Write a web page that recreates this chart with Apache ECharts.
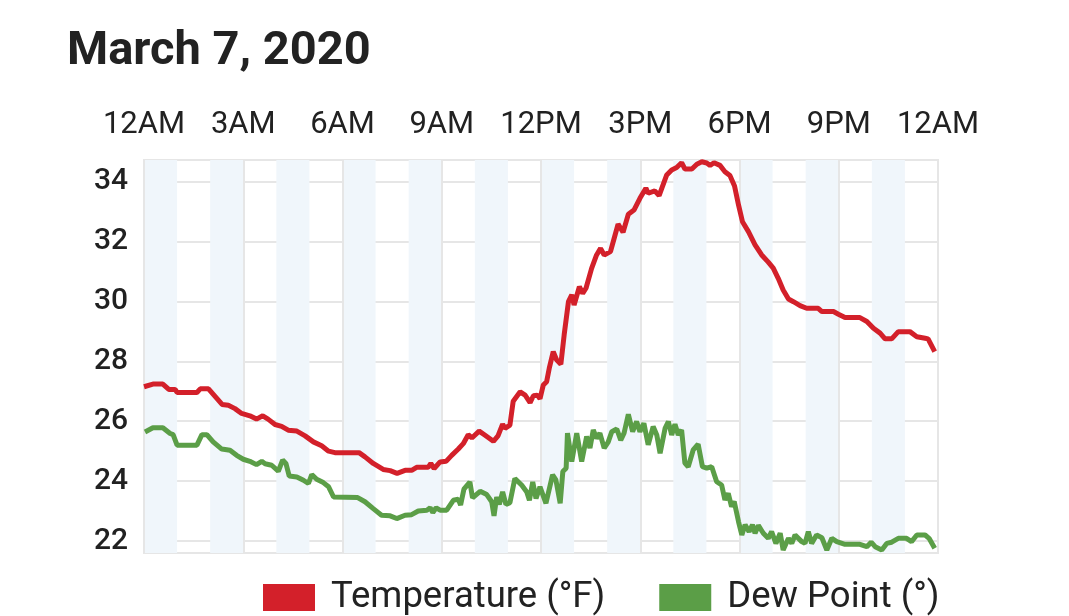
<!DOCTYPE html>
<html>
<head>
<meta charset="utf-8">
<title>March 7, 2020</title>
<script src="https://cdn.jsdelivr.net/npm/echarts@6/dist/echarts.min.js"></script>
<style>
  html, body { margin: 0; padding: 0; background: #fff; }
  #chart { width: 1069px; height: 616px; }
</style>
</head>
<body>
<div id="chart"></div>
<script>
// 时间（小时）和读数
var tempHours = [0, 0.27, 0.57, 0.75, 0.94, 1.0, 1.6, 1.7, 1.95, 2.36, 2.55, 2.75, 2.95, 3.2, 3.4, 3.59, 3.75, 3.96,
  4.16, 4.36, 4.62, 4.87, 5.12, 5.37, 5.58, 5.77, 6.5, 6.68, 6.93, 7.23, 7.44, 7.65, 7.89, 8.09, 8.24, 8.59, 8.67,
  8.77, 8.95, 9.13, 9.3, 9.5, 9.65, 9.8, 9.91, 10.13, 10.31, 10.56, 10.7, 10.84, 10.91, 11.06, 11.16, 11.37, 11.52,
  11.67, 11.77, 11.89, 11.97, 12.07, 12.17, 12.25, 12.37, 12.47, 12.6, 12.7, 12.83, 12.93, 13.0, 13.16, 13.26, 13.36,
  13.53, 13.68, 13.8, 13.91, 14.1, 14.21, 14.33, 14.48, 14.64, 14.81, 14.99, 15.17, 15.24, 15.44, 15.57, 15.8, 15.95,
  16.1, 16.25, 16.35, 16.56, 16.71, 16.86, 17.01, 17.11, 17.23, 17.41, 17.56, 17.71, 17.85, 17.97, 18.09, 18.27,
  18.47, 18.67, 18.87, 19.02, 19.17, 19.32, 19.48, 19.63, 19.83, 20.03, 20.38, 20.49, 20.84, 20.99, 21.19, 21.64,
  21.85, 22.05, 22.25, 22.4, 22.6, 22.8, 23.15, 23.36, 23.61, 23.7, 23.9];
var tempValues = [27.15, 27.24, 27.24, 27.06, 27.06, 26.96, 26.96, 27.08, 27.08, 26.56, 26.53, 26.42, 26.26, 26.18,
  26.07, 26.18, 26.07, 25.89, 25.83, 25.7, 25.67, 25.51, 25.31, 25.18, 25.0, 24.95, 24.95, 24.81, 24.59, 24.39,
  24.35, 24.26, 24.36, 24.36, 24.46, 24.46, 24.59, 24.42, 24.64, 24.66, 24.86, 25.07, 25.25, 25.55, 25.44, 25.67,
  25.53, 25.33, 25.51, 25.9, 25.76, 25.87, 26.67, 26.98, 26.87, 26.62, 26.85, 26.87, 26.75, 27.21, 27.32, 27.77,
  28.32, 28.05, 27.9, 28.88, 29.99, 30.22, 29.88, 30.49, 30.27, 30.44, 31.1, 31.55, 31.77, 31.55, 31.66, 32.1, 32.58,
  32.31, 32.91, 33.05, 33.44, 33.78, 33.61, 33.69, 33.53, 34.22, 34.39, 34.47, 34.63, 34.42, 34.42, 34.58, 34.66,
  34.62, 34.54, 34.63, 34.54, 34.33, 34.2, 33.85, 33.22, 32.66, 32.33, 31.89, 31.55, 31.31, 31.11, 30.77, 30.38,
  30.08, 29.99, 29.86, 29.77, 29.77, 29.66, 29.66, 29.57, 29.46, 29.46, 29.33, 29.1, 28.94, 28.75, 28.75, 28.99,
  28.99, 28.82, 28.77, 28.75, 28.32];

var dewHours = [0.03, 0.27, 0.57, 0.79, 0.88, 1.0, 1.6, 1.75, 1.9, 2.09, 2.35, 2.6, 2.8, 3.0, 3.2, 3.4, 3.56, 3.66,
  3.86, 4.06, 4.19, 4.29, 4.39, 4.62, 4.82, 4.97, 5.07, 5.22, 5.42, 5.58, 5.73, 6.46, 6.68, 6.93, 7.18, 7.44, 7.64,
  7.89, 8.09, 8.29, 8.55, 8.65, 8.73, 8.83, 8.95, 9.15, 9.35, 9.5, 9.57, 9.67, 9.85, 9.93, 10.16, 10.36, 10.51,
  10.58, 10.66, 10.74, 10.84, 10.94, 11.06, 11.21, 11.42, 11.57, 11.65, 11.75, 11.85, 11.97, 12.15, 12.35, 12.45,
  12.58, 12.66, 12.76, 12.8, 12.93, 13.08, 13.23, 13.38, 13.48, 13.58, 13.68, 13.78, 13.91, 14.03, 14.14, 14.29,
  14.41, 14.51, 14.64, 14.77, 14.89, 14.99, 15.11, 15.24, 15.39, 15.5, 15.6, 15.75, 15.85, 15.95, 16.05, 16.15,
  16.25, 16.35, 16.45, 16.6, 16.75, 16.88, 17.01, 17.16, 17.31, 17.46, 17.56, 17.66, 17.76, 17.84, 17.97, 18.07,
  18.17, 18.29, 18.39, 18.47, 18.57, 18.72, 18.87, 18.97, 19.1, 19.23, 19.32, 19.48, 19.58, 19.68, 19.88, 19.98,
  20.08, 20.18, 20.33, 20.49, 20.64, 20.79, 20.94, 21.19, 21.64, 21.85, 21.98, 22.1, 22.3, 22.45, 22.6, 22.8, 23.05,
  23.2, 23.36, 23.61, 23.73, 23.9];
var dewValues = [25.64, 25.78, 25.78, 25.59, 25.55, 25.2, 25.2, 25.55, 25.55, 25.31, 25.07, 25.03, 24.86, 24.73,
  24.66, 24.55, 24.66, 24.58, 24.53, 24.33, 24.7, 24.59, 24.17, 24.14, 24.03, 23.92, 24.22, 24.06, 23.95, 23.81,
  23.47, 23.45, 23.31, 23.08, 22.86, 22.84, 22.75, 22.86, 22.88, 23.0, 23.03, 23.11, 22.95, 23.11, 23.03, 23.03,
  23.36, 23.4, 23.2, 23.73, 23.97, 23.44, 23.66, 23.55, 23.31, 22.84, 23.47, 23.22, 23.64, 23.22, 23.28, 24.09,
  23.86, 23.64, 23.36, 23.97, 23.42, 23.81, 23.26, 24.21, 24.04, 23.26, 24.32, 24.43, 25.6, 24.65, 25.6, 24.65,
  25.49, 25.1, 25.71, 25.43, 25.6, 25.1, 25.3, 25.65, 25.74, 25.37, 25.6, 26.23, 25.65, 25.99, 25.65, 25.93, 25.21,
  25.82, 25.54, 24.93, 25.76, 25.99, 25.54, 25.9, 25.54, 25.71, 24.6, 24.48, 25.04, 25.23, 24.48, 24.43, 24.48,
  23.98, 23.87, 23.37, 23.59, 23.15, 23.32, 22.65, 22.2, 22.54, 22.31, 22.54, 22.26, 22.52, 22.26, 22.09, 22.31,
  21.92, 22.26, 21.7, 22.09, 21.92, 22.2, 21.98, 21.92, 22.31, 21.92, 22.2, 22.11, 21.7, 22.09, 21.98, 21.89, 21.89,
  21.81, 21.96, 21.81, 21.7, 21.92, 21.96, 22.09, 22.09, 21.98, 22.2, 22.2, 22.09, 21.76];

var hourLabels = ['12AM', '3AM', '6AM', '9AM', '12PM', '3PM', '6PM', '9PM', '12AM'];
var seriesNames = ['Temperature (°F)', 'Dew Point (°)'];

function pairs(xs, ys) {
  return xs.map(function (x, i) { return [x, ys[i]]; });
}

var gridColor = '#e6e6e6';
var clear = 'rgba(0,0,0,0)';

var chart = echarts.init(document.getElementById('chart'));
var option = {
  backgroundColor: '#fff',
  animation: false,
  textStyle: { fontFamily: 'Roboto' },
  title: {
    text: 'March 7, 2020',
    left: 62,
    top: 24,
    textStyle: { fontFamily: 'Roboto', fontSize: 47, fontWeight: 'bold', color: '#222' }
  },
  legend: {
    data: seriesNames,
    left: 258,
    top: 574,
    icon: 'rect',
    itemWidth: 52,
    itemHeight: 27,
    itemGap: 54,
    textStyle: { fontFamily: 'Roboto', fontSize: 36.5, color: '#222', padding: [0, 0, 0, 11] }
  },
  grid: {
    left: 144, right: 131, top: 160, bottom: 63,
    show: true, borderColor: gridColor, borderWidth: 2
  },
  xAxis: [
    {
      // 每小时交替的浅蓝色条
      type: 'value', min: 0, max: 24, interval: 1, position: 'top',
      axisLine: { show: false }, axisTick: { show: false }, axisLabel: { show: false },
      splitLine: { show: false },
      splitArea: { show: true, areaStyle: { color: ['#f0f6fb', clear] } }
    },
    {
      type: 'value', min: 0, max: 24, interval: 3, position: 'top',
      axisLine: { show: false }, axisTick: { show: false },
      axisLabel: {
        fontFamily: 'Roboto', fontSize: 31, color: '#212121', margin: 19,
        formatter: function (v) { return hourLabels[Math.round(v / 3)]; }
      },
      splitLine: { lineStyle: { color: gridColor, width: 2 } }
    }
  ],
  yAxis: {
    type: 'value', min: 21.6, max: 34.72, interval: 0.4,
    axisLine: { show: false }, axisTick: { show: false },
    axisLabel: {
      fontFamily: 'Roboto', fontSize: 30, fontWeight: 500, color: '#212121', margin: 16,
      formatter: function (v) {
        var r = Math.round(v);
        return (Math.abs(v - r) < 1e-6 && r % 2 === 0) ? String(r) : '';
      }
    },
    splitLine: { lineStyle: { color: [clear, gridColor, clear, clear, clear], width: 2 } }
  },
  series: [
    {
      name: seriesNames[0], type: 'line', xAxisIndex: 1, showSymbol: false,
      data: pairs(tempHours, tempValues),
      itemStyle: { color: '#d3202a' },
      lineStyle: { color: '#d3202a', width: 5 }
    },
    {
      name: seriesNames[1], type: 'line', xAxisIndex: 1, showSymbol: false,
      data: pairs(dewHours, dewValues),
      itemStyle: { color: '#5b9e47' },
      lineStyle: { color: '#5b9e47', width: 5 }
    }
  ]
};
chart.setOption(option);
</script>
</body>
</html>
